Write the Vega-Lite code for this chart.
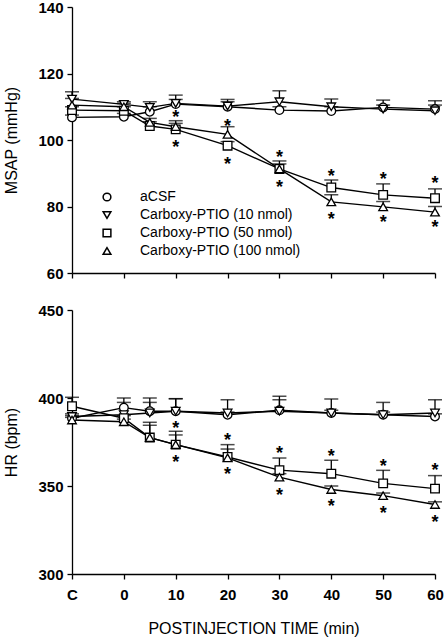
{
  "$schema": "https://vega.github.io/schema/vega-lite/v6.json",
  "padding": {"left": 3, "top": 0, "right": 2, "bottom": 2},
  "config": {
    "font": "Liberation Sans",
    "view": {"stroke": null},
    "axis": {"grid": false, "domainColor": "black", "tickColor": "black", "domainWidth": 1.3, "tickWidth": 1.3, "tickSize": 5, "labelColor": "black", "titleColor": "black", "labelFontSize": 15, "labelFontWeight": "bold", "titleFontSize": 16, "titleFontWeight": "normal"}
  },
  "datasets": {
    "series": [
      {"panel": "MSAP", "group": "aCSF", "t": -10, "v": 106.8, "up": 107.5},
      {"panel": "MSAP", "group": "aCSF", "t": 0, "v": 107.0, "up": 108.0},
      {"panel": "MSAP", "group": "aCSF", "t": 5, "v": 108.5, "up": 110.0},
      {"panel": "MSAP", "group": "aCSF", "t": 10, "v": 110.8, "up": 112.2},
      {"panel": "MSAP", "group": "aCSF", "t": 20, "v": 110.0, "up": 111.5},
      {"panel": "MSAP", "group": "aCSF", "t": 30, "v": 109.0, "up": 110.0},
      {"panel": "MSAP", "group": "aCSF", "t": 40, "v": 108.7, "up": 110.0},
      {"panel": "MSAP", "group": "aCSF", "t": 50, "v": 109.8, "up": 112.0},
      {"panel": "MSAP", "group": "aCSF", "t": 60, "v": 109.3, "up": 110.5},
      {"panel": "MSAP", "group": "Carboxy-PTIO (10 nmol)", "t": -10, "v": 112.3, "up": 114.5},
      {"panel": "MSAP", "group": "Carboxy-PTIO (10 nmol)", "t": 0, "v": 110.7, "up": 111.5},
      {"panel": "MSAP", "group": "Carboxy-PTIO (10 nmol)", "t": 5, "v": 109.8, "up": 111.5},
      {"panel": "MSAP", "group": "Carboxy-PTIO (10 nmol)", "t": 10, "v": 111.0, "up": 113.5},
      {"panel": "MSAP", "group": "Carboxy-PTIO (10 nmol)", "t": 20, "v": 110.2, "up": 112.2},
      {"panel": "MSAP", "group": "Carboxy-PTIO (10 nmol)", "t": 30, "v": 111.5, "up": 114.8},
      {"panel": "MSAP", "group": "Carboxy-PTIO (10 nmol)", "t": 40, "v": 110.0, "up": 112.3},
      {"panel": "MSAP", "group": "Carboxy-PTIO (10 nmol)", "t": 50, "v": 109.3, "up": 110.5},
      {"panel": "MSAP", "group": "Carboxy-PTIO (10 nmol)", "t": 60, "v": 108.8, "up": 111.8},
      {"panel": "MSAP", "group": "Carboxy-PTIO (50 nmol)", "t": -10, "v": 109.0, "up": 110.0},
      {"panel": "MSAP", "group": "Carboxy-PTIO (50 nmol)", "t": 0, "v": 108.8, "up": 110.0},
      {"panel": "MSAP", "group": "Carboxy-PTIO (50 nmol)", "t": 5, "v": 104.2, "up": 105.5},
      {"panel": "MSAP", "group": "Carboxy-PTIO (50 nmol)", "t": 10, "v": 103.2, "up": 105.8},
      {"panel": "MSAP", "group": "Carboxy-PTIO (50 nmol)", "t": 20, "v": 98.3, "up": 99.5},
      {"panel": "MSAP", "group": "Carboxy-PTIO (50 nmol)", "t": 30, "v": 91.3, "up": 93.7},
      {"panel": "MSAP", "group": "Carboxy-PTIO (50 nmol)", "t": 40, "v": 85.7, "up": 88.0},
      {"panel": "MSAP", "group": "Carboxy-PTIO (50 nmol)", "t": 50, "v": 83.5, "up": 86.8},
      {"panel": "MSAP", "group": "Carboxy-PTIO (50 nmol)", "t": 60, "v": 82.5, "up": 85.3},
      {"panel": "MSAP", "group": "Carboxy-PTIO (100 nmol)", "t": -10, "v": 110.5, "up": 112.5},
      {"panel": "MSAP", "group": "Carboxy-PTIO (100 nmol)", "t": 0, "v": 110.0, "up": 111.0},
      {"panel": "MSAP", "group": "Carboxy-PTIO (100 nmol)", "t": 5, "v": 105.3, "up": 106.5},
      {"panel": "MSAP", "group": "Carboxy-PTIO (100 nmol)", "t": 10, "v": 104.0, "up": 105.0},
      {"panel": "MSAP", "group": "Carboxy-PTIO (100 nmol)", "t": 20, "v": 101.7, "up": 104.0},
      {"panel": "MSAP", "group": "Carboxy-PTIO (100 nmol)", "t": 30, "v": 91.3, "up": 92.8},
      {"panel": "MSAP", "group": "Carboxy-PTIO (100 nmol)", "t": 40, "v": 81.4, "up": 83.5},
      {"panel": "MSAP", "group": "Carboxy-PTIO (100 nmol)", "t": 50, "v": 79.9, "up": 81.5},
      {"panel": "MSAP", "group": "Carboxy-PTIO (100 nmol)", "t": 60, "v": 78.3, "up": 80.0},
      {"panel": "HR", "group": "aCSF", "t": -10, "v": 388.5, "up": 390},
      {"panel": "HR", "group": "aCSF", "t": 0, "v": 394.5, "up": 400},
      {"panel": "HR", "group": "aCSF", "t": 5, "v": 392.5, "up": 400},
      {"panel": "HR", "group": "aCSF", "t": 10, "v": 392.5, "up": 399.6},
      {"panel": "HR", "group": "aCSF", "t": 20, "v": 390.5, "up": 392},
      {"panel": "HR", "group": "aCSF", "t": 30, "v": 393, "up": 399},
      {"panel": "HR", "group": "aCSF", "t": 40, "v": 391.5, "up": 393},
      {"panel": "HR", "group": "aCSF", "t": 50, "v": 390.5, "up": 392},
      {"panel": "HR", "group": "aCSF", "t": 60, "v": 389.5, "up": 391},
      {"panel": "HR", "group": "Carboxy-PTIO (10 nmol)", "t": -10, "v": 389.5, "up": 391},
      {"panel": "HR", "group": "Carboxy-PTIO (10 nmol)", "t": 0, "v": 390.5, "up": 397.5},
      {"panel": "HR", "group": "Carboxy-PTIO (10 nmol)", "t": 5, "v": 391.5, "up": 397.5},
      {"panel": "HR", "group": "Carboxy-PTIO (10 nmol)", "t": 10, "v": 392.5, "up": 399.6},
      {"panel": "HR", "group": "Carboxy-PTIO (10 nmol)", "t": 20, "v": 391.5, "up": 399},
      {"panel": "HR", "group": "Carboxy-PTIO (10 nmol)", "t": 30, "v": 392.5, "up": 401},
      {"panel": "HR", "group": "Carboxy-PTIO (10 nmol)", "t": 40, "v": 391.5, "up": 399.4},
      {"panel": "HR", "group": "Carboxy-PTIO (10 nmol)", "t": 50, "v": 390.5, "up": 397.5},
      {"panel": "HR", "group": "Carboxy-PTIO (10 nmol)", "t": 60, "v": 391.5, "up": 399},
      {"panel": "HR", "group": "Carboxy-PTIO (50 nmol)", "t": -10, "v": 395.3, "up": 400.4},
      {"panel": "HR", "group": "Carboxy-PTIO (50 nmol)", "t": 0, "v": 388.5, "up": 390},
      {"panel": "HR", "group": "Carboxy-PTIO (50 nmol)", "t": 5, "v": 377.5, "up": 386.2},
      {"panel": "HR", "group": "Carboxy-PTIO (50 nmol)", "t": 10, "v": 373.5, "up": 381.1},
      {"panel": "HR", "group": "Carboxy-PTIO (50 nmol)", "t": 20, "v": 366.5, "up": 373.5},
      {"panel": "HR", "group": "Carboxy-PTIO (50 nmol)", "t": 30, "v": 359, "up": 365.9},
      {"panel": "HR", "group": "Carboxy-PTIO (50 nmol)", "t": 40, "v": 357, "up": 364.6},
      {"panel": "HR", "group": "Carboxy-PTIO (50 nmol)", "t": 50, "v": 351.5, "up": 358.9},
      {"panel": "HR", "group": "Carboxy-PTIO (50 nmol)", "t": 60, "v": 348.5, "up": 355.9},
      {"panel": "HR", "group": "Carboxy-PTIO (100 nmol)", "t": -10, "v": 387.5, "up": 389},
      {"panel": "HR", "group": "Carboxy-PTIO (100 nmol)", "t": 0, "v": 386.5, "up": 388},
      {"panel": "HR", "group": "Carboxy-PTIO (100 nmol)", "t": 5, "v": 377.5, "up": 384.5},
      {"panel": "HR", "group": "Carboxy-PTIO (100 nmol)", "t": 10, "v": 373.5, "up": 379},
      {"panel": "HR", "group": "Carboxy-PTIO (100 nmol)", "t": 20, "v": 366, "up": 371},
      {"panel": "HR", "group": "Carboxy-PTIO (100 nmol)", "t": 30, "v": 355, "up": 357},
      {"panel": "HR", "group": "Carboxy-PTIO (100 nmol)", "t": 40, "v": 348, "up": 350},
      {"panel": "HR", "group": "Carboxy-PTIO (100 nmol)", "t": 50, "v": 344.5, "up": 346},
      {"panel": "HR", "group": "Carboxy-PTIO (100 nmol)", "t": 60, "v": 339.5, "up": 341}
    ],
    "stars": [
      {"panel": "MSAP", "t": 10, "v": 108.1},
      {"panel": "MSAP", "t": 10, "v": 99.2},
      {"panel": "MSAP", "t": 20, "v": 105.5},
      {"panel": "MSAP", "t": 20, "v": 94.0},
      {"panel": "MSAP", "t": 30, "v": 96.2},
      {"panel": "MSAP", "t": 30, "v": 87.2},
      {"panel": "MSAP", "t": 40, "v": 90.5},
      {"panel": "MSAP", "t": 40, "v": 77.4},
      {"panel": "MSAP", "t": 50, "v": 89.5},
      {"panel": "MSAP", "t": 50, "v": 76.4},
      {"panel": "MSAP", "t": 60, "v": 88.3},
      {"panel": "MSAP", "t": 60, "v": 75.1},
      {"panel": "HR", "t": 10, "v": 385.2},
      {"panel": "HR", "t": 10, "v": 365.9},
      {"panel": "HR", "t": 20, "v": 378.2},
      {"panel": "HR", "t": 20, "v": 359.3},
      {"panel": "HR", "t": 30, "v": 371.2},
      {"panel": "HR", "t": 30, "v": 347.0},
      {"panel": "HR", "t": 40, "v": 369.3},
      {"panel": "HR", "t": 40, "v": 340.7},
      {"panel": "HR", "t": 50, "v": 363.6},
      {"panel": "HR", "t": 50, "v": 337.1},
      {"panel": "HR", "t": 60, "v": 361.2},
      {"panel": "HR", "t": 60, "v": 331.8}
    ]
  },
  "spacing": 22,
  "resolve": {"scale": {"shape": "independent", "x": "independent", "y": "independent"}, "legend": {"shape": "independent"}},
  "vconcat": [
    {
      "width": 363,
      "height": 266,
      "layer": [
        {
          "data": {"name": "series"},
          "transform": [{"filter": "datum.panel === 'MSAP'"}],
          "mark": {"type": "rule", "color": "black", "strokeWidth": 1.3},
          "encoding": {
            "x": {"field": "t", "type": "quantitative", "scale": {"domain": [-10, 60], "nice": false, "zero": false}, "axis": {"values": [-10, 0, 10, 20, 30, 40, 50, 60], "labels": false, "title": null}},
            "y": {"field": "v", "type": "quantitative", "scale": {"domain": [60, 140], "nice": false, "zero": false}, "axis": {"values": [60, 80, 100, 120, 140], "title": "MSAP (mmHg)", "labelPadding": 4, "titlePadding": 18}},
            "y2": {"field": "up"}
          }
        },
        {
          "data": {"name": "series"},
          "transform": [{"filter": "datum.panel === 'MSAP'"}],
          "mark": {"type": "tick", "color": "black", "thickness": 1.5, "size": 14, "orient": "horizontal"},
          "encoding": {
            "x": {"field": "t", "type": "quantitative"},
            "y": {"field": "up", "type": "quantitative"}
          }
        },
        {
          "data": {"name": "series"},
          "transform": [{"filter": "datum.panel === 'MSAP'"}],
          "mark": {"type": "line", "color": "black", "strokeWidth": 1.4},
          "encoding": {
            "x": {"field": "t", "type": "quantitative"},
            "y": {"field": "v", "type": "quantitative"},
            "detail": {"field": "group"}
          }
        },
        {
          "data": {"name": "series"},
          "transform": [{"filter": "datum.panel === 'MSAP'"}],
          "mark": {"type": "point", "filled": true, "fill": "white", "stroke": "black", "strokeWidth": 1.3, "size": 75, "opacity": 1},
          "encoding": {
            "x": {"field": "t", "type": "quantitative"},
            "y": {"field": "v", "type": "quantitative"},
            "shape": {
              "field": "group", "type": "nominal",
              "scale": {"domain": ["aCSF", "Carboxy-PTIO (10 nmol)", "Carboxy-PTIO (50 nmol)", "Carboxy-PTIO (100 nmol)"], "range": ["circle", "triangle-down", "square", "triangle-up"]},
              "legend": {"title": null, "orient": "none", "legendX": 28, "legendY": 183, "labelFontSize": 14, "labelFont": "Liberation Sans", "labelColor": "black", "labelOffset": 26, "rowPadding": 4, "symbolSize": 60, "padding": 0, "labelLimit": 300,
                "encode": {"symbols": {"update": {"stroke": {"value": "black"}, "fill": {"value": "white"}, "strokeWidth": {"value": 1.2}, "opacity": {"value": 1}}}}}
            }
          }
        },
        {
          "data": {"name": "stars"},
          "transform": [{"filter": "datum.panel === 'MSAP'"}],
          "mark": {"type": "text", "text": "*", "fontSize": 18, "fontWeight": "bold", "baseline": "alphabetic", "dy": 10, "color": "black"},
          "encoding": {
            "x": {"field": "t", "type": "quantitative"},
            "y": {"field": "v", "type": "quantitative"}
          }
        }
      ]
    },
    {
      "width": 363,
      "height": 264,
      "layer": [
        {
          "data": {"name": "series"},
          "transform": [{"filter": "datum.panel === 'HR'"}],
          "mark": {"type": "rule", "color": "black", "strokeWidth": 1.3},
          "encoding": {
            "x": {"field": "t", "type": "quantitative", "scale": {"domain": [-10, 60], "nice": false, "zero": false}, "axis": {"values": [-10, 0, 10, 20, 30, 40, 50, 60], "labelExpr": "datum.value === -10 ? 'C' : datum.label", "title": "POSTINJECTION TIME (min)", "labelPadding": 8, "titlePadding": 18, "labelFlush": false}},
            "y": {"field": "v", "type": "quantitative", "scale": {"domain": [300, 450], "nice": false, "zero": false}, "axis": {"values": [300, 350, 400, 450], "title": "HR (bpm)", "labelPadding": 4, "titlePadding": 18}},
            "y2": {"field": "up"}
          }
        },
        {
          "data": {"name": "series"},
          "transform": [{"filter": "datum.panel === 'HR'"}],
          "mark": {"type": "tick", "color": "black", "thickness": 1.5, "size": 14, "orient": "horizontal"},
          "encoding": {
            "x": {"field": "t", "type": "quantitative"},
            "y": {"field": "up", "type": "quantitative"}
          }
        },
        {
          "data": {"name": "series"},
          "transform": [{"filter": "datum.panel === 'HR'"}],
          "mark": {"type": "line", "color": "black", "strokeWidth": 1.4},
          "encoding": {
            "x": {"field": "t", "type": "quantitative"},
            "y": {"field": "v", "type": "quantitative"},
            "detail": {"field": "group"}
          }
        },
        {
          "data": {"name": "series"},
          "transform": [{"filter": "datum.panel === 'HR'"}],
          "mark": {"type": "point", "filled": true, "fill": "white", "stroke": "black", "strokeWidth": 1.3, "size": 75, "opacity": 1},
          "encoding": {
            "x": {"field": "t", "type": "quantitative"},
            "y": {"field": "v", "type": "quantitative"},
            "shape": {
              "field": "group", "type": "nominal",
              "scale": {"domain": ["aCSF", "Carboxy-PTIO (10 nmol)", "Carboxy-PTIO (50 nmol)", "Carboxy-PTIO (100 nmol)"], "range": ["circle", "triangle-down", "square", "triangle-up"]},
              "legend": null
            }
          }
        },
        {
          "data": {"name": "stars"},
          "transform": [{"filter": "datum.panel === 'HR'"}],
          "mark": {"type": "text", "text": "*", "fontSize": 18, "fontWeight": "bold", "baseline": "alphabetic", "dy": 10, "color": "black"},
          "encoding": {
            "x": {"field": "t", "type": "quantitative"},
            "y": {"field": "v", "type": "quantitative"}
          }
        }
      ]
    }
  ]
}
